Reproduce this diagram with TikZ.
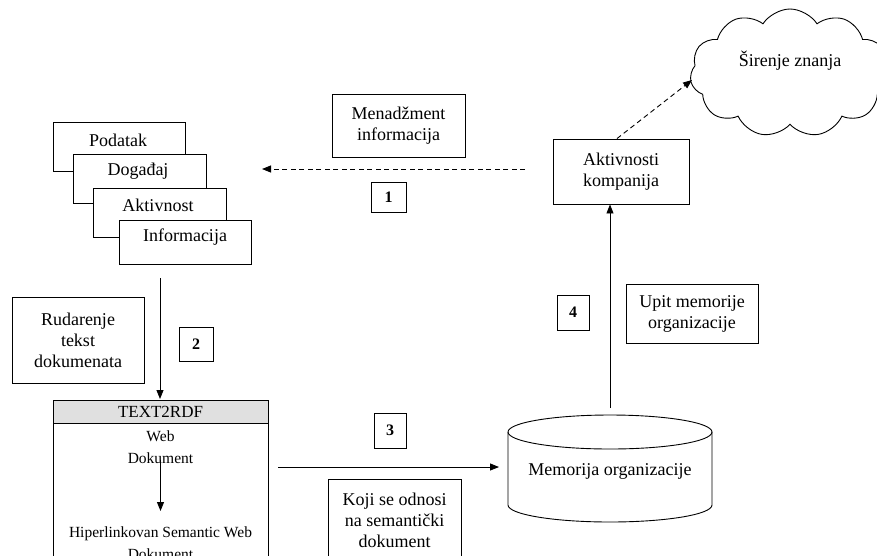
\documentclass[tikz,border=0pt]{standalone}
\usepackage{fontspec}
\setmainfont{Liberation Serif}
\usetikzlibrary{arrows.meta,shapes.symbols}

\begin{document}
\begin{tikzpicture}[x=1pt,y=-1pt,
  every node/.style={font=\fontsize{18}{21}\selectfont},
  box/.style={draw,line width=0.9pt,fill=white,inner sep=0pt},
  txt/.style={inner sep=0pt,align=center},
  numbox/.style={draw,line width=0.9pt,inner sep=0pt,minimum width=33pt,minimum height=32pt,font=\fontsize{16}{18}\selectfont\bfseries},
  small/.style={inner sep=0pt,align=center,font=\fontsize{15.5}{22}\selectfont},
  conn/.style={line width=0.9pt,-{Triangle[length=9pt,width=7pt]}},
  dconn/.style={conn,dash pattern=on 5pt off 3.5pt}]
\useasboundingbox (0,0) rectangle (877,555);

% stacked information layers
\node[box,minimum width=132pt,minimum height=49pt] (pod) at (119,146.5) {};
\node[txt] (podt) at (118,140) {Podatak};
\node[box,minimum width=133pt,minimum height=49pt] (dog) at (139.5,178.5) {};
\node[txt] (dogt) at (138,171) {Događaj};
\node[box,minimum width=133pt,minimum height=49pt] (akv) at (159.5,212.5) {};
\node[txt] (akvt) at (158,205) {Aktivnost};
\node[box,minimum width=132pt,minimum height=44pt] (inf) at (185,242) {};
\node[txt] (inft) at (185,237) {Informacija};

% step 1
\node[box,minimum width=133pt,minimum height=63pt,align=center] (men) at (398.5,125.5) {Menadžment\\informacija};
\node[numbox,minimum width=35pt,minimum height=30pt] (n1) at (388.5,197) {1};

% company activities and knowledge spreading
\node[box,minimum width=136pt,minimum height=65pt,align=center] (akt) at (621,171.5) {Aktivnosti\\kompanija};
\node[cloud,draw,line width=0.9pt,cloud puffs=11,cloud puff arc=115,aspect=1.6,
      minimum width=200pt,minimum height=128pt,inner sep=0pt] (cl) at (790,73) {};
\node[txt] (clt) at (790,61) {Širenje znanja};

% step 4
\node[numbox,minimum width=32pt,minimum height=35pt] (n4) at (573,312.5) {4};
\node[box,minimum width=132pt,minimum height=59pt,align=center] (upit) at (692,313.5) {Upit memorije\\organizacije};

% organisational memory (cylinder)
\draw[line width=0.9pt,fill=white] (508,432) -- (508,505)
  arc[start angle=180,end angle=0,x radius=102,y radius=17]
  -- (712,432) arc[start angle=0,end angle=-180,x radius=102,y radius=17] -- cycle;
\draw[line width=0.9pt] (508,432) arc[start angle=180,end angle=0,x radius=102,y radius=17];
\node[txt] (mem) at (610,471) {Memorija organizacije};
\coordinate (cyltop) at (610,408);
\coordinate (cylleft) at (499,467);

% step 2
\node[box,minimum width=132pt,minimum height=86pt,align=center] (rud) at (78,340) {Rudarenje\\tekst\\dokumenata};
\node[numbox,minimum width=34pt,minimum height=34pt] (n2) at (196,344) {2};

% TEXT2RDF block
\draw[line width=0.9pt,fill=white] (53,400) rectangle (268,575);
\draw[line width=0.9pt,fill=black!12] (53,400) rectangle (268,423);
\node[txt,font=\fontsize{17}{20}\selectfont] (t2r) at (160.5,411.5) {TEXT2RDF};
\node[small] (web) at (160.5,447) {Web\\Dokument};
\node[small] (sem) at (160.5,543) {Hiperlinkovan Semantic Web\\Dokument};
\draw[line width=0.9pt,-{Triangle[length=9pt,width=7pt]}] (web.south) ++(0,-4) coordinate (wa) -- (160.5,511) coordinate (wb);

% step 3
\node[numbox,minimum width=32pt,minimum height=35pt] (n3) at (390,430.5) {3};
\node[box,minimum width=133pt,minimum height=82pt,align=center] (koji) at (394.5,520) {Koji se odnosi\\na semantički\\dokument};

% connectors
\coordinate (c1a) at (525,169);
\coordinate (c1b) at (262,169);
\draw[dconn] (c1a) -- (c1b);
\coordinate (c5) at (692,80);
\draw[dconn] ([xshift=-4pt]akt.north) -- (c5);
\draw[conn] (cyltop) -- (cyltop |- akt.south);
\coordinate (c2) at (160,278);
\draw[conn] (c2) -- (160,399);
\coordinate (c3) at (278,467);
\draw[conn] (c3) -- (cylleft);
\end{tikzpicture}
\end{document}
